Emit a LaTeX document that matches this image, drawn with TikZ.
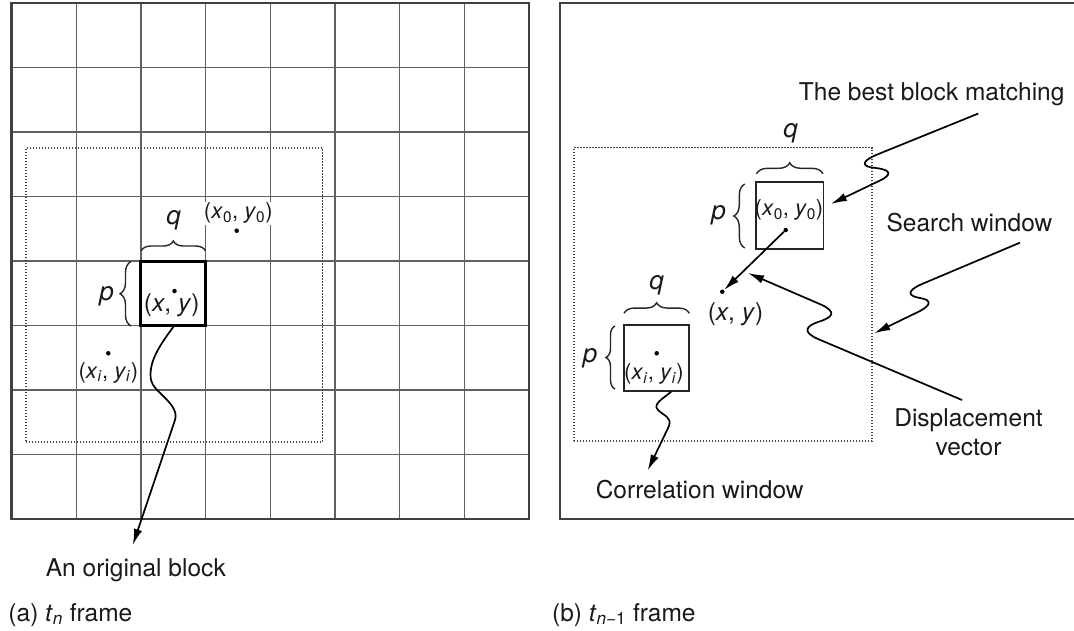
\documentclass[tikz,border=0pt]{standalone}
\usepackage{fontspec}
\setmainfont{TeX Gyre Heros}
\usetikzlibrary{arrows.meta,decorations.pathreplacing,calc}

% italic variable, and italic variable with a subscript
\newcommand\mvar[1]{\textit{#1}}
\newcommand\msub[2]{\textit{#1}\textsubscript{#2}}

\begin{document}
\begin{tikzpicture}[x=1pt,y=1pt,
  frameline/.style={draw=black!75, line width=2.2pt},
  gridline/.style={draw=black!62, line width=1.3pt},
  origblk/.style={draw=black, line width=3pt, minimum width=64.7pt, minimum height=64.5pt, inner sep=0pt},
  winblk/.style={draw=black!85, line width=1.8pt, inner sep=0pt},
  srch/.style={draw=black!72, line width=1.4pt, dash pattern=on 1.4pt off 1.6pt, inner sep=0pt},
  brc/.style={draw=black!85, line width=1.4pt, decorate, decoration={brace, amplitude=#1}},
  brc/.default=10pt,
  txt/.style={font=\fontsize{24.5}{29.6}\selectfont, inner sep=0pt, text=black!90},
  mtxt/.style={font=\fontsize{24.5}{29}\selectfont, inner sep=0pt, text=black!90},
  stxt/.style={font=\fontsize{22}{26}\selectfont, inner sep=0pt, text=black!90},
  lett/.style={font=\fontsize{26}{30}\selectfont\itshape, inner sep=0pt, text=black!90},
  pt/.style={circle, fill=black, inner sep=0pt, minimum size=4.5pt},
  warrow/.style={draw=black, line width=1.7pt, -{Latex[length=16pt,width=8.5pt]}},
]
\useasboundingbox (0,0) rectangle (1074,-630);
\clip (0,0) rectangle (1074,-630);

% ---------------- (a) current frame: 8 x 8 grid of blocks ----------------
\foreach \i in {1,...,7}{
  \draw[gridline] ({11.5+\i*64.6875},-3) -- ({11.5+\i*64.6875},-519);
  \draw[gridline] (11.5,{-3-\i*64.5}) -- (529,{-3-\i*64.5});
}
\draw[frameline] (11.5,-3) rectangle (529,-519);

% search region around the block
\node[srch, minimum width=296.5pt, minimum height=294pt] (swinA) at (174.25,-295) {};

% the original block
\node[origblk] (orig) at (173.25,-293.25) {};
\draw[brc] (141,-251) -- (205.6,-251);
\node[lett] (qA) at (173.5,-220) {q};
\draw[brc=11pt] (131,-326) -- (131,-261.5);
\node[lett] (pA) at (106.5,-296) {p};

\node[pt] (xyA) at (174.5,-291) {};
\node[mtxt] (xyAl) at (171.7,-305) {(\mvar{x}, \mvar{y})};
\node[pt] (x0A) at (236.7,-230.7) {};
\node[stxt, fill=white, inner sep=1pt] (x0Al) at (238.3,-213.3) {(\msub{x}{0}, \msub{y}{0})};
\node[pt] (xiA) at (108.3,-353.3) {};
\node[stxt] (xiAl) at (108.3,-372.5) {(\msub{x}{\mvar{i}}, \msub{y}{\mvar{i}})};

\node[txt, anchor=base west] (origlbl) at (45.7,-576) {An original block};
\draw[warrow] (orig.south) .. controls (160,-345) and (148,-362) .. (151,-380)
  .. controls (153,-392) and (180,-404) .. (175,-420) -- ([shift={(-3pt,13pt)}]origlbl.north);

\node[txt, anchor=base west] (capA) at (8.3,-621) {(a) \msub{t}{\mvar{n}} frame};

% ---------------- (b) previous frame ----------------
\draw[frameline] (560,-3) rectangle (1090,-519);
\node[srch, minimum width=298pt, minimum height=293.5pt] (swin) at (723,-294.25) {};

% best matching block
\node[winblk, minimum width=67.5pt, minimum height=67pt] (best) at (789.75,-215.5) {};
\draw[brc=11pt] (756.5,-173.8) -- (823,-173.8);
\node[lett] (qB) at (790.5,-133) {q};
\draw[brc=11pt] (744.8,-248) -- (744.8,-184);
\node[lett] (pB) at (718.5,-215) {p};
\node[stxt] (x0Bl) at (789,-210) {(\msub{x}{0}, \msub{y}{0})};
\node[pt] (x0B) at (785.7,-230) {};

% correlation window
\node[winblk, minimum width=65.3pt, minimum height=65.7pt] (corr) at (656.7,-357.9) {};
\draw[brc=10.5pt] (624,-313.3) -- (689.3,-313.3);
\node[lett] (qC) at (656.7,-285) {q};
\draw[brc=9pt] (615,-389) -- (615,-326);
\node[lett] (pC) at (590,-358) {p};
\node[pt] (xiB) at (656.7,-353.3) {};
\node[stxt] (xiBl) at (654,-374) {(\msub{x}{\mvar{i}}, \msub{y}{\mvar{i}})};

% position of the original block, and the displacement vector
\node[pt] (xyB) at (722.3,-291.7) {};
\node[mtxt] (xyBl) at (735.5,-314) {(\mvar{x}, \mvar{y})};
\draw[warrow] (x0B) -- (xyB);
\coordinate (dvtip) at (748,-273);

% callouts
\node[txt, anchor=base] (bestlbl) at (931.7,-100) {The best block matching};
\node[txt, anchor=base] (srchlbl) at (969.5,-231) {Search window};
\node[txt, anchor=north, align=center] (displbl) at (968.5,-408) {Displacement\\vector};
\node[txt, anchor=base] (corrlbl) at (699.7,-498) {Correlation window};

\draw[warrow] ([shift={(46.6pt,-8pt)}]bestlbl.south) -- (876,-155)
  .. controls (860,-162) and (862,-167) .. (876,-168)
  .. controls (892,-170) and (892,-175) .. (879,-181) -- ([shift={(6.5pt,11.5pt)}]best.east);
\draw[warrow] ([shift={(50.5pt,-11pt)}]srchlbl.south) -- (922,-284)
  .. controls (906,-291) and (908,-296) .. (920,-298)
  .. controls (932,-300) and (931,-305) .. (920,-311) -- ([shift={(1.5pt,-39pt)}]swin.east);
\draw[warrow] ([shift={(-6.5pt,8pt)}]displbl.north) -- (818,-339)
  .. controls (802,-332) and (806,-326) .. (818,-322)
  .. controls (834,-317) and (836,-312) .. (822,-305) -- (dvtip);
\draw[warrow] ([xshift=14.5pt]corr.south) .. controls (664,-398) and (652,-404) .. (658,-410)
  .. controls (664,-416) and (672,-417) .. (669,-426) -- ([shift={(-52pt,9pt)}]corrlbl.north);

\node[txt, anchor=base west] (capB) at (552,-621) {(b) \msub{t}{\mvar{n}−1} frame};
\end{tikzpicture}
\end{document}
